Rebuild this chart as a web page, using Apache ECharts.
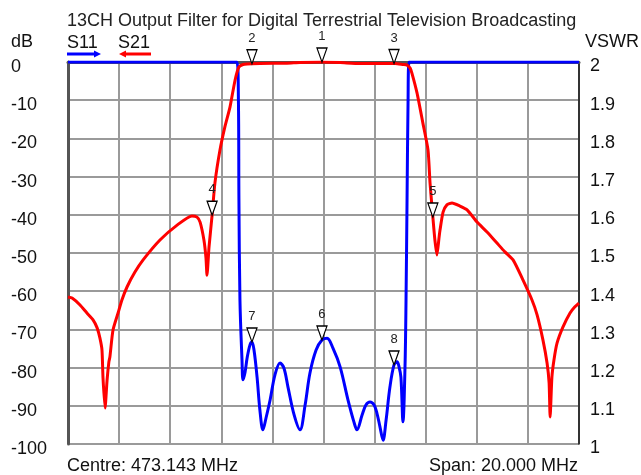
<!DOCTYPE html>
<html>
<head>
<meta charset="utf-8">
<script src="https://cdn.jsdelivr.net/npm/echarts@6/dist/echarts.min.js"></script>
<style>html,body{margin:0;padding:0;background:#fff;}#c{width:641px;height:475px;}</style>
</head>
<body>
<div id="c"></div>
<script>
// Frequency offset from start (MHz), span 20 MHz, centre 473.143 MHz
const s21Freq = [0,0.16,0.47,0.74,0.98,1.14,1.25,1.33,1.37,1.45,1.53,1.60,1.64,1.76,1.96,2.11,2.31,2.62,2.94,3.60,4.27,4.85,5.05,5.17,5.32,5.40,5.44,5.52,5.64,5.75,5.95,6.14,6.34,6.54,6.69,6.85,7.01,7.51,8.57,9.08,9.94,10.65,11.43,12.21,12.80,13.11,13.27,13.39,13.46,13.66,13.89,14.09,14.17,14.28,14.36,14.44,14.52,14.56,14.68,14.83,15.03,15.34,15.62,16.01,16.40,16.79,17.10,17.42,17.81,18.16,18.36,18.59,18.75,18.83,18.87,18.94,19.02,19.14,19.37,19.65,19.84,20];
const s21dB = [-61.5,-61.8,-63.6,-65.7,-67.5,-69.6,-72.3,-75.4,-82.7,-90.6,-83.2,-78.5,-77.2,-70.2,-65.7,-62.3,-58.9,-55.0,-51.8,-46.6,-42.7,-40.3,-40.6,-41.9,-46.6,-51.3,-55.8,-48.4,-40.1,-31.7,-23.0,-17.0,-11.8,-4.7,-1.3,-0.65,-0.5,-0.4,-0.3,-0.1,0,-0.15,-0.4,-0.4,-0.4,-0.65,-0.8,-1.6,-2.9,-8.1,-16.0,-23.0,-31.7,-40.6,-46.6,-50.5,-46.1,-44.0,-39.3,-37.4,-36.9,-37.7,-38.7,-41.9,-44.5,-47.4,-49.7,-51.8,-57.1,-62.3,-66.2,-72.8,-78.8,-84.0,-92.9,-82.5,-78.0,-73.6,-69.4,-65.7,-64.1,-63.1];

const s11Freq = [0,6.61,6.67,6.69,6.73,6.81,6.85,6.93,7.01,7.12,7.20,7.28,7.40,7.51,7.63,7.75,7.91,8.10,8.30,8.45,8.61,8.85,9.08,9.28,9.47,9.71,9.94,10.14,10.37,10.65,10.96,11.19,11.31,11.51,11.66,11.82,11.98,12.09,12.21,12.33,12.45,12.60,12.76,12.88,12.95,13.03,13.11,13.19,13.23,13.27,13.31,13.35,20];
const s11VSWR = [2,2,1.90,1.64,1.377,1.22,1.168,1.188,1.225,1.259,1.267,1.246,1.175,1.089,1.037,1.068,1.115,1.181,1.212,1.199,1.149,1.076,1.037,1.102,1.186,1.246,1.272,1.277,1.251,1.202,1.115,1.058,1.037,1.076,1.102,1.110,1.102,1.081,1.045,1.010,1.063,1.149,1.207,1.215,1.204,1.175,1.058,1.202,1.377,1.64,1.90,2,2];

const s21MarkerNames = ['1','2','3','4','5'];
const s21MarkerFreqs = [9.94,7.20,12.76,5.64,14.28];
const s11MarkerNames = ['6','7','8'];
const s11MarkerFreqs = [9.94,7.20,12.76];

const leftTicks = [0,-10,-20,-30,-40,-50,-60,-70,-80,-90,-100];
const rightTicks = [2,1.9,1.8,1.7,1.6,1.5,1.4,1.3,1.2,1.1,1];

const titleText = '13CH Output Filter for Digital Terrestrial Television Broadcasting';
const centreText = 'Centre: 473.143 MHz';
const spanText = 'Span: 20.000 MHz';

function interp(xs, ys, x) {
  for (let i = 0; i < xs.length - 1; i++) {
    if (x >= xs[i] && x <= xs[i+1]) {
      const t = (x - xs[i]) / (xs[i+1] - xs[i] || 1);
      return ys[i] + t * (ys[i+1] - ys[i]);
    }
  }
  return ys[ys.length-1];
}
function markers(names, freqs, xs, ys) {
  return names.map((n, i) => ({ name: n, coord: [freqs[i], interp(xs, ys, freqs[i])] }));
}
const FONT = 'Liberation Sans';
const markStyle = {
  symbol: 'triangle', symbolRotate: 180, symbolSize: [10, 14], symbolOffset: [0, -7],
  itemStyle: { color: '#fff', borderColor: '#000', borderWidth: 1.3 },
  label: { show: true, position: 'top', distance: 4, formatter: '{b}', color: '#222', fontSize: 13, fontFamily: FONT }
};

const chart = echarts.init(document.getElementById('c'), null, { renderer: 'canvas' });
chart.setOption({
  animation: false,
  backgroundColor: '#fff',
  textStyle: { fontFamily: FONT },
  grid: { left: 68, right: 62, top: 62, bottom: 31, containLabel: false },
  xAxis: {
    type: 'value', min: 0, max: 20, interval: 2,
    axisLine: { show: true, lineStyle: { color: '#555', width: 3 } },
    axisTick: { show: false }, axisLabel: { show: false },
    splitLine: { show: true, lineStyle: { color: '#9a9a9a', width: 2 } }
  },
  yAxis: [{
    type: 'value', min: -100, max: 0, interval: 10, position: 'left',
    axisLine: { show: true, lineStyle: { color: '#555', width: 3 } },
    axisTick: { show: false },
    axisLabel: { show: true, align: 'left', verticalAlign: 'top', lineHeight: 10, margin: 57, color: '#111', fontSize: 18, fontFamily: FONT,
      formatter: v => { const t = leftTicks.find(k => Math.abs(k - v) < 1e-6); return t === undefined ? '' : String(t); } },
    splitLine: { show: true, lineStyle: { color: '#9a9a9a', width: 2 } }
  }, {
    type: 'value', min: 1, max: 2, interval: 0.1, position: 'right',
    axisLine: { show: true, lineStyle: { color: '#111', width: 1.5 } },
    axisTick: { show: false },
    axisLabel: { show: true, verticalAlign: 'top', lineHeight: 9, margin: 11, color: '#111', fontSize: 18, fontFamily: FONT,
      formatter: v => { const t = rightTicks.find(k => Math.abs(k - v) < 1e-6); return t === undefined ? '' : String(t); } },
    splitLine: { show: false }
  }],
  series: [{
    name: 'S11', type: 'line', yAxisIndex: 1, showSymbol: false, smooth: 0.35,
    data: s11Freq.map((f, i) => [f, s11VSWR[i]]),
    lineStyle: { color: '#0000ff', width: 3 }, itemStyle: { color: '#0000ff' },
    markPoint: Object.assign({ data: markers(s11MarkerNames, s11MarkerFreqs, s11Freq, s11VSWR) }, markStyle)
  }, {
    name: 'S21', type: 'line', yAxisIndex: 0, showSymbol: false, smooth: 0.2,
    data: s21Freq.map((f, i) => [f, s21dB[i]]),
    lineStyle: { color: '#ff0000', width: 3 }, itemStyle: { color: '#ff0000' },
    markPoint: Object.assign({ data: markers(s21MarkerNames, s21MarkerFreqs, s21Freq, s21dB) }, markStyle)
  }],
  graphic: [
    { type: 'text', left: 67, top: 12, style: { text: titleText, fontSize: 18, fontFamily: FONT, fill: '#222' } },
    { type: 'text', left: 11, top: 33, style: { text: 'dB', fontSize: 18, fontFamily: FONT, fill: '#111' } },
    { type: 'text', left: 585, top: 33, style: { text: 'VSWR', fontSize: 18, fontFamily: FONT, fill: '#111' } },
    { type: 'text', left: 67, top: 34, style: { text: 'S11', fontSize: 18, fontFamily: FONT, fill: '#111' } },
    { type: 'text', left: 118, top: 34, style: { text: 'S21', fontSize: 18, fontFamily: FONT, fill: '#111' } },
    { type: 'line', shape: { x1: 67, y1: 54, x2: 96, y2: 54 }, style: { stroke: '#0000ff', lineWidth: 3 } },
    { type: 'polygon', shape: { points: [[94, 50.5], [101, 54], [94, 57.5]] }, style: { fill: '#0000ff' } },
    { type: 'line', shape: { x1: 124, y1: 54, x2: 151, y2: 54 }, style: { stroke: '#ff0000', lineWidth: 3 } },
    { type: 'polygon', shape: { points: [[126, 50.5], [119, 54], [126, 57.5]] }, style: { fill: '#ff0000' } },
    { type: 'text', left: 67, top: 457, style: { text: centreText, fontSize: 18, fontFamily: FONT, fill: '#111' } },
    { type: 'text', right: 63, top: 457, style: { text: spanText, fontSize: 18, fontFamily: FONT, fill: '#111' } }
  ]
});
</script>
</body>
</html>
